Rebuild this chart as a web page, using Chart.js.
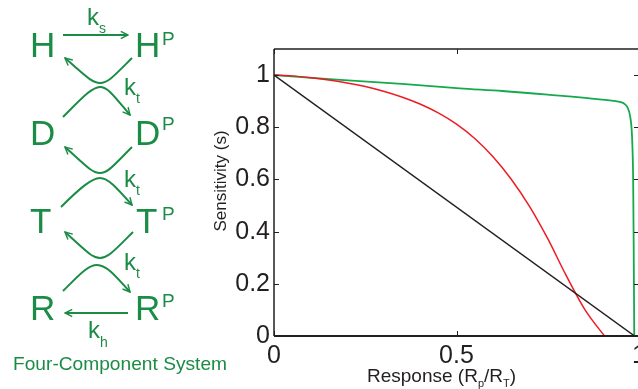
<!DOCTYPE html>
<html lang="en">
<head>
    <meta charset="UTF-8">
    <title>Four-Component System Sensitivity</title>
    <style>
        body {
            margin: 0;
            padding: 0;
            background-color: #fff;
            overflow: hidden;
            width: 638px;
            height: 389px;
        }
        #wrap {
            position: absolute;
            left: 0;
            top: 0;
            width: 650px;
            height: 389px;
        }
        #overlay {
            position: absolute;
            left: 0;
            top: 0;
            pointer-events: none;
            font-family: "Liberation Sans", Arial, sans-serif;
        }
    </style>
    <script src="https://cdn.jsdelivr.net/npm/chart.js"></script>
</head>
<body>
    <div id="wrap">
        <canvas id="sensChart" width="650" height="389"></canvas>
    </div>
    <svg id="overlay" width="638" height="389" viewBox="0 0 638 389">
        <defs>
            <marker id="ah" viewBox="0 0 10 10" refX="9" refY="5" markerWidth="4.5" markerHeight="4.5" orient="auto">
                <path d="M1,1 L9,5 L1,9" fill="none" stroke="#1b8c45" stroke-width="1.6"/>
            </marker>
        </defs>
        <g fill="#1b8c45" font-size="35">
            <text x="30" y="57">H</text>
            <text x="135" y="57">H</text>
            <text x="30" y="145">D</text>
            <text x="135" y="145">D</text>
            <text x="30" y="233">T</text>
            <text x="136" y="233">T</text>
            <text x="30" y="320">R</text>
            <text x="135" y="320">R</text>
        </g>
        <g fill="#1b8c45" font-size="19">
            <text x="162" y="45">P</text>
            <text x="162" y="130">P</text>
            <text x="162" y="220">P</text>
            <text x="162" y="307">P</text>
        </g>
        <g fill="#1b8c45" font-size="24">
            <text x="87" y="25">k<tspan font-size="14" dy="8">s</tspan></text>
            <text x="124" y="95">k<tspan font-size="14" dy="8">t</tspan></text>
            <text x="124" y="187">k<tspan font-size="14" dy="8">t</tspan></text>
            <text x="124" y="270">k<tspan font-size="14" dy="8">t</tspan></text>
            <text x="88" y="338">k<tspan font-size="14" dy="9">h</tspan></text>
        </g>
        <g fill="none" stroke="#1b8c45" stroke-width="2" marker-end="url(#ah)">
            <path d="M63,35 L128,35"/>
            <path d="M132,58 C114,76 108,83 100,83 C92,83 86,76 65,58"/>
            <path d="M63,117 C82,98 92,87 100,87 C108,87 114,96 130,115"/>
            <path d="M132,147 C114,165 108,173 100,173 C92,173 86,166 65,147"/>
            <path d="M61,207 C80,188 92,178 100,178 C108,178 116,187 132,205"/>
            <path d="M133,232 C115,250 108,258 100,258 C92,258 86,251 65,232"/>
            <path d="M63,291 C80,274 88,265 97,265 C106,265 114,274 130,292"/>
            <path d="M128,313 L65,313"/>
        </g>
        <text x="13" y="370" font-size="19" fill="#1b8c45" textLength="214" lengthAdjust="spacingAndGlyphs">Four-Component System</text>
        <text x="367" y="382" font-size="19" fill="#231f20">Response (R<tspan font-size="11" dy="5">p</tspan><tspan dy="-5">/R</tspan><tspan font-size="11" dy="5">T</tspan><tspan dy="-5">)</tspan></text>
        <text transform="translate(226,181) rotate(-90)" text-anchor="middle" font-size="17" fill="#231f20">Sensitivity (s)</text>
    </svg>
    <script>
        // values
        const respBlack = [0, 0.988];
        const sensBlack = [1, 0];

        const respRed = [0, 0.05, 0.1, 0.15, 0.2, 0.25, 0.3, 0.35, 0.4, 0.45, 0.5, 0.55, 0.6, 0.65, 0.7, 0.75, 0.8, 0.85, 0.9, 0.906];
        const sensRed = [1.0, 0.997, 0.990, 0.981, 0.970, 0.956, 0.938, 0.916, 0.889, 0.855, 0.812, 0.757, 0.687, 0.601, 0.497, 0.373, 0.233, 0.105, 0.010, 0];

        const respGreen = [0, 0.172, 0.35, 0.509, 0.626, 0.75, 0.892, 0.947, 0.961, 0.97, 0.976, 0.98, 0.982, 0.984, 0.9855, 0.987];
        const sensGreen = [1.0, 0.983, 0.966, 0.949, 0.939, 0.925, 0.907, 0.897, 0.889, 0.872, 0.84, 0.789, 0.725, 0.598, 0.33, 0];

        const xTicks = [0, 0.5, 1];
        const xTickLabels = ['0', '0.5', '1'];
        const yTicks = [0, 0.2, 0.4, 0.6, 0.8, 1];
        const yTickLabels = ['0', '0.2', '0.4', '0.6', '0.8', '1'];

        function toPoints(xs, ys) {
            return xs.map((x, i) => ({ x: x, y: ys[i] }));
        }

        const axisColor = '#231f20';
        const tickFont = { family: '"Liberation Sans", Arial, sans-serif', size: 25 };

        // box around the axes with inward ticks, like the original
        const framePlugin = {
            id: 'frame',
            afterDatasetsDraw(chart) {
                const ctx = chart.ctx;
                const a = chart.chartArea;
                const xs = chart.scales.x;
                const ys = chart.scales.y;
                ctx.save();
                ctx.strokeStyle = axisColor;
                ctx.lineWidth = 1.5;
                ctx.beginPath();
                ctx.moveTo(a.left, a.top);
                ctx.lineTo(a.right, a.top);
                ctx.moveTo(a.right, a.top);
                ctx.lineTo(a.right, a.bottom);
                ctx.moveTo(a.left, a.top);
                ctx.lineTo(a.left, a.bottom);
                ctx.stroke();
                ctx.lineWidth = 2;
                ctx.beginPath();
                ctx.moveTo(a.left, a.bottom);
                ctx.lineTo(a.right, a.bottom);
                ctx.stroke();
                ctx.lineWidth = 1;
                ctx.beginPath();
                xTicks.forEach(v => {
                    const px = Math.round(xs.getPixelForValue(v)) + 0.5;
                    ctx.moveTo(px, a.bottom);
                    ctx.lineTo(px, a.bottom - 5);
                    ctx.moveTo(px, a.top);
                    ctx.lineTo(px, a.top + 5);
                });
                yTicks.forEach(v => {
                    const py = Math.round(ys.getPixelForValue(v)) + 0.5;
                    ctx.moveTo(a.left, py);
                    ctx.lineTo(a.left + 5, py);
                    ctx.moveTo(a.right, py);
                    ctx.lineTo(a.right - 5, py);
                });
                ctx.stroke();
                ctx.restore();
            }
        };

        new Chart(document.getElementById('sensChart'), {
            type: 'line',
            data: {
                datasets: [
                    {
                        label: 'Linear',
                        data: toPoints(respBlack, sensBlack),
                        borderColor: '#231f20',
                        borderWidth: 1.5
                    },
                    {
                        label: 'Red',
                        data: toPoints(respRed, sensRed),
                        borderColor: '#ed1c24',
                        borderWidth: 1.5,
                        cubicInterpolationMode: 'monotone'
                    },
                    {
                        label: 'Green',
                        data: toPoints(respGreen, sensGreen),
                        borderColor: '#17a84e',
                        borderWidth: 1.8,
                        cubicInterpolationMode: 'monotone'
                    }
                ]
            },
            options: {
                responsive: false,
                animation: false,
                devicePixelRatio: 1,
                layout: {
                    padding: { left: 200, top: 49, right: 11, bottom: 0 }
                },
                elements: {
                    point: { radius: 0 }
                },
                plugins: {
                    legend: { display: false },
                    tooltip: { enabled: false }
                },
                scales: {
                    x: {
                        type: 'linear',
                        min: 0,
                        max: 1,
                        grid: { display: false, drawTicks: false },
                        border: { display: false },
                        afterBuildTicks: (scale) => {
                            scale.ticks = xTicks.map(v => ({ value: v }));
                        },
                        afterFit: (scale) => {
                            scale.height = 53;
                            scale.paddingLeft = 0;
                            scale.paddingRight = 0;
                        },
                        ticks: {
                            color: axisColor,
                            font: tickFont,
                            padding: 5,
                            maxRotation: 0,
                            autoSkip: false,
                            callback: (v, i) => xTickLabels[i]
                        }
                    },
                    y: {
                        min: 0,
                        max: 1.1,
                        grid: { display: false, drawTicks: false },
                        border: { display: false },
                        afterBuildTicks: (scale) => {
                            scale.ticks = yTicks.map(v => ({ value: v }));
                        },
                        afterFit: (scale) => {
                            scale.width = 74;
                            scale.paddingTop = 0;
                            scale.paddingBottom = 0;
                        },
                        ticks: {
                            color: axisColor,
                            font: tickFont,
                            padding: 4,
                            autoSkip: false,
                            callback: (v, i) => yTickLabels[i]
                        }
                    }
                }
            },
            plugins: [framePlugin]
        });
    </script>
</body>
</html>
